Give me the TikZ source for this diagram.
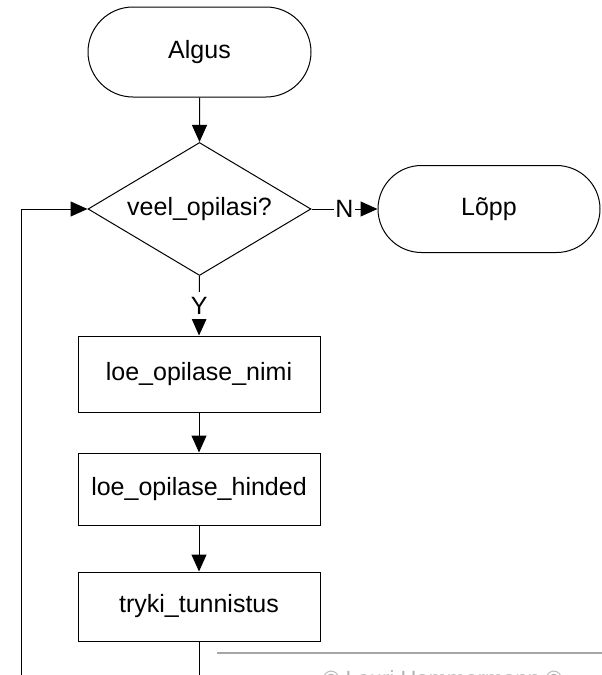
\documentclass[tikz,border=0pt]{standalone}
\usepackage{fontspec}
\setmainfont{Liberation Sans}
\usetikzlibrary{shapes.geometric,shapes.misc,arrows.meta}
\tikzset{
  base/.style={draw=black,line width=1pt,inner sep=0pt,font=\fontsize{25}{30}\selectfont},
  term/.style={base,rounded rectangle,minimum width=223pt,minimum height=90pt},
  proc/.style={base,rectangle,minimum width=242pt},
  dec/.style={base,diamond,aspect=1.677,minimum width=223pt,minimum height=133pt},
  conn/.style={line width=1pt,-{Triangle[length=17pt,width=15pt]}},
  lbl/.style={fill=white,inner sep=1pt,font=\fontsize{25}{30}\selectfont},
}
\begin{document}
\begin{tikzpicture}[x=1pt,y=-1pt]
\useasboundingbox (0,0) rectangle (602,675);
\node[term] (algus) at (199.5,52) {Algus};
\node[dec] (d) at (199.5,209) {veel\_opilasi?};
\node[term,minimum width=222pt,minimum height=87pt] (lopp) at (489,209) {Lõpp};
\node[proc,minimum height=76pt] (b1) at (199,374) {loe\_opilase\_nimi};
\node[proc,minimum height=72pt] (b2) at (199,489) {loe\_opilase\_hinded};
\node[proc,minimum height=69pt] (b3) at (199,606.5) {tryki\_tunnistus};
\coordinate (cutA) at (199,675);
\coordinate (cutB) at (21,675);
\draw[conn] (algus) -- (d);
\draw[conn] (d.east) -- node[lbl]{N} (lopp.west);
\draw[conn] (d.south) -- node[lbl,inner ysep=5pt,pos=0.50]{Y} (b1.north);
\draw[conn] (b1) -- (b2);
\draw[conn] (b2) -- (b3);
\draw[line width=1pt] (b3.south) -- (cutA);
\draw[conn] (cutB) |- (d.west);
\coordinate (wmA) at (217,653);
\coordinate (wmB) at (602,653);
\draw[line width=1.5pt,color=black!35] (wmA) -- (wmB);
\begin{scope}
\clip (0,0) rectangle (602,675);
\node[anchor=base west,inner sep=0pt,text=black!30,font=\fontsize{22}{26}\selectfont] (wm) at (323,686) {© Lauri Hammermann ©};
\end{scope}
\end{tikzpicture}
\end{document}
